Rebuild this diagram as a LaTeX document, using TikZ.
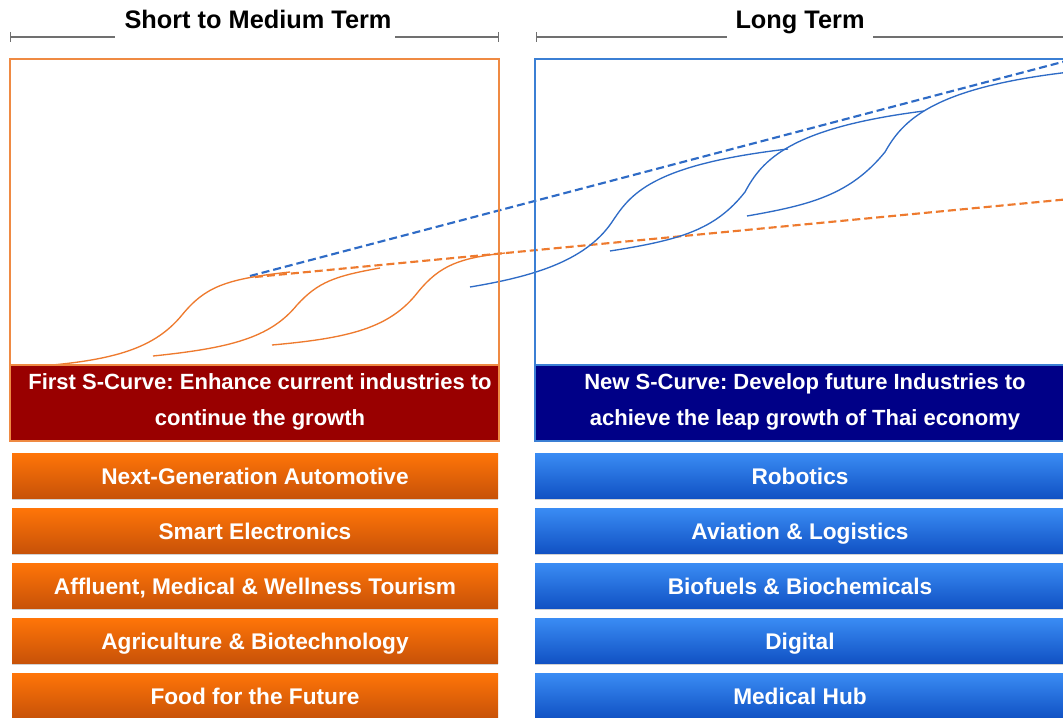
\documentclass[tikz,border=0pt]{standalone}
\usepackage{fontspec}
\setmainfont{Liberation Sans}
\usetikzlibrary{arrows.meta,shadows}
\frenchspacing
\definecolor{ocurve}{HTML}{EE7A2E}
\definecolor{bcurve}{HTML}{2E6BC6}
\definecolor{oborder}{HTML}{EF8A43}
\definecolor{bborder}{HTML}{3B7FD4}
\definecolor{darkred}{HTML}{990000}
\definecolor{darkblue}{HTML}{000087}
\definecolor{otop}{HTML}{FF7508}
\definecolor{obot}{HTML}{C85208}
\definecolor{btop}{HTML}{3A8CF4}
\definecolor{bbot}{HTML}{1152C4}
\definecolor{bracketgray}{HTML}{707070}
\begin{document}
\begin{tikzpicture}[x=0.75pt,y=-0.75pt,
  bracket/.style={draw=bracketgray,line width=0.8pt},
  titletext/.style={font=\fontsize{19}{22}\selectfont\bfseries,text=black,inner sep=0pt,anchor=base},
  scurve/.style={line width=1pt},
  trend/.style={line width=1.6pt,dash pattern=on 6pt off 3pt},
  panel/.style={line width=1.5pt},
  headtext/.style={font=\fontsize{16.5}{27}\selectfont\bfseries,text=white,align=center,inner sep=0pt},
  obox/.style={minimum width=364.5pt,minimum height=33.75pt,inner sep=0pt,top color=otop,bottom color=obot,
     text=white,font=\fontsize{17}{20}\selectfont\bfseries,text height=17pt,text depth=3pt,
     general shadow={fill=black,opacity=0.18,shadow xshift=0pt,shadow yshift=-1.2pt}},
  bbox/.style={obox,top color=btop,bottom color=bbot,minimum width=397.5pt}]
\useasboundingbox (0,0) rectangle (1063,717);
\clip (0,0) rectangle (1063,717);
\fill[white] (0,0) rectangle (1063,717);

% brackets and titles
\node[titletext] (tleft) at (258,29) {Short to Medium Term};
\node[titletext] (tright) at (800,29) {Long Term};
\coordinate (la) at (10,37); \coordinate (lb) at (115,37);
\coordinate (lc) at (395,37); \coordinate (ld) at (499,37);
\coordinate (ra) at (536,37); \coordinate (rb) at (727,37);
\coordinate (rc) at (873,37); \coordinate (rd) at (1070,37);
\draw[bracket,{Bar[width=7pt]}-] (la) -- (lb);
\draw[bracket,-{Bar[width=7pt]}] (lc) -- (ld);
\draw[bracket,{Bar[width=7pt]}-] (ra) -- (rb);
\draw[bracket] (rc) -- (rd);

% trend lines
\draw[trend,color=ocurve] (255,277) -- (1070,199);
\draw[trend,color=bcurve] (250,276) -- (1070,60);

% orange S-curves
\draw[scurve,color=ocurve] (41,366) .. controls (115,360) and (155,348) .. (182,315)
   .. controls (205,287) and (225,279) .. (290,272);
\draw[scurve,color=ocurve] (153,356) .. controls (230,348) and (270,338) .. (297,305)
   .. controls (318,282) and (335,276) .. (380,268);
\draw[scurve,color=ocurve] (272,345) .. controls (350,338) and (390,328) .. (418,292)
   .. controls (440,265) and (460,258) .. (505,253);

% blue S-curves
\draw[scurve,color=bcurve] (470,287) .. controls (530,277) and (585,262) .. (612,222)
   .. controls (630,195) and (650,165) .. (788,149);
\draw[scurve,color=bcurve] (610,251) .. controls (680,240) and (715,230) .. (745,192)
   .. controls (762,160) and (790,128) .. (924,111);
\draw[scurve,color=bcurve] (747,216) .. controls (810,205) and (850,195) .. (885,152)
   .. controls (902,122) and (930,88) .. (1070,72);

% panels
\draw[panel,draw=oborder,fill=darkred] (10,365) rectangle (499,441);
\draw[panel,draw=oborder] (10,59) rectangle (499,441);
\draw[panel,draw=bborder,fill=darkblue] (535,365) rectangle (1075,441);
\draw[panel,draw=bborder] (535,59) rectangle (1075,441);
\node[headtext] (hleft) at (260,402) {First S-Curve: Enhance current industries to\\continue the growth};
\node[headtext] (hright) at (805,402) {New S-Curve: Develop future Industries to\\achieve the leap growth of Thai economy};

% industry boxes
\node[obox] (o1) at (255,475.5) {Next-Generation Automotive};
\node[obox] (o2) at (255,530.5) {Smart Electronics};
\node[obox] (o3) at (255,585.5) {Affluent, Medical \& Wellness Tourism};
\node[obox] (o4) at (255,640.5) {Agriculture \& Biotechnology};
\node[obox] (o5) at (255,695.5) {Food for the Future};
\node[bbox] (b1) at (800,475.5) {Robotics};
\node[bbox] (b2) at (800,530.5) {Aviation \& Logistics};
\node[bbox] (b3) at (800,585.5) {Biofuels \& Biochemicals};
\node[bbox] (b4) at (800,640.5) {Digital};
\node[bbox] (b5) at (800,695.5) {Medical Hub};
\end{tikzpicture}
\end{document}
